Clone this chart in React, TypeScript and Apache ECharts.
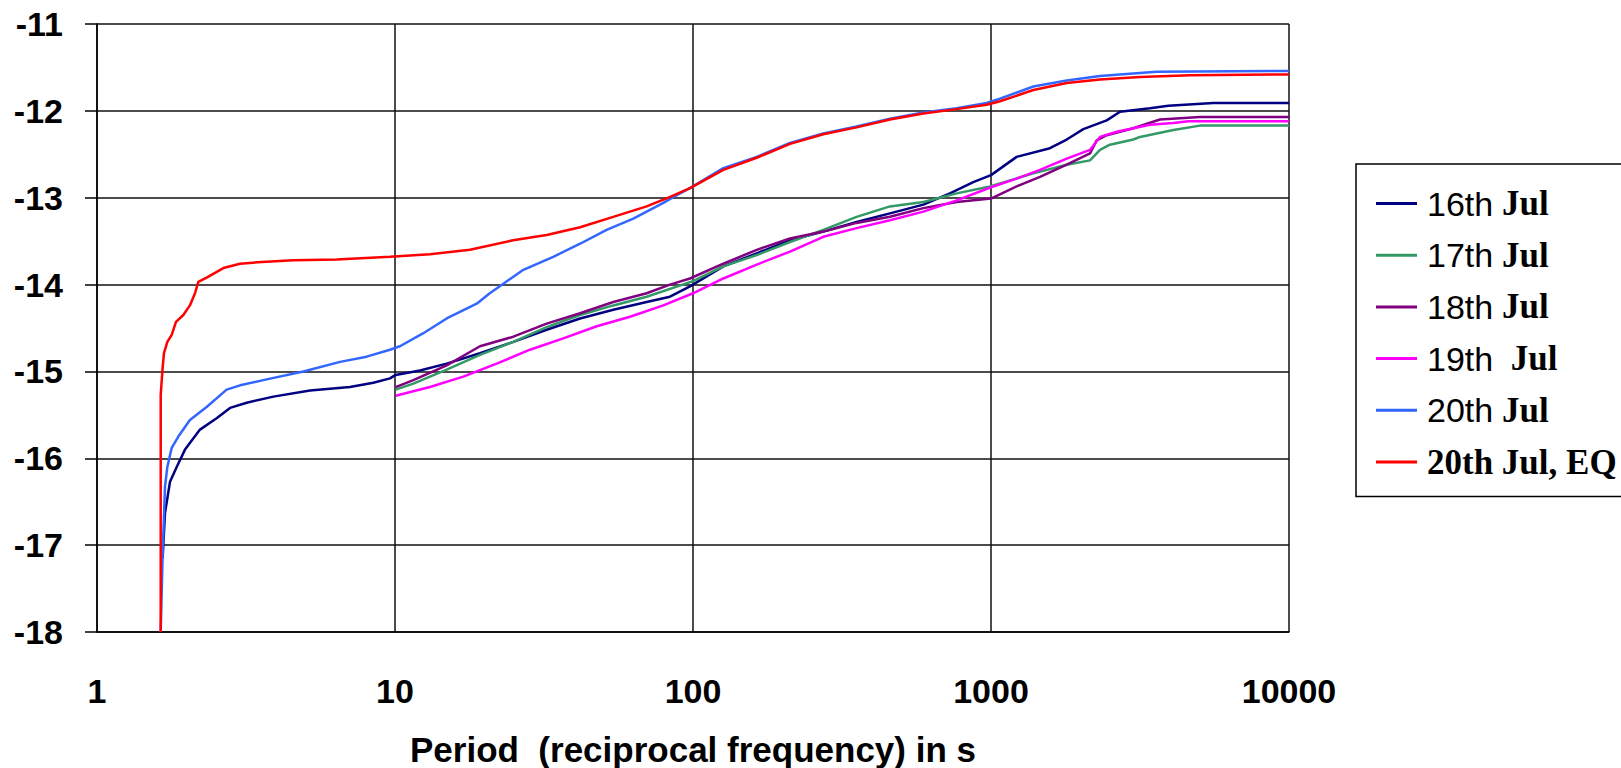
import React, { useEffect, useRef } from "react";
import * as echarts from "echarts";

// ---------- data ----------
const seriesNames = ["16th Jul", "17th Jul", "18th Jul", "19th  Jul", "20th Jul", "20th Jul, EQ"];
const seriesColors = ["#000080", "#339966", "#800080", "#FF00FF", "#3366FF", "#FF0000"];
const xTickLabels = ["1", "10", "100", "1000", "10000"];
const yMin = -18;
const yMax = -11;

const jul16Period = [1.661, 1.691, 1.758, 1.851, 1.974, 2.216, 2.52, 2.795, 3.18, 3.906, 5.186, 7.06, 8.46, 9.62, 10.05, 12.13, 14.91, 19.28, 24.95, 32.28, 41.78, 54.03, 69.9, 83.7, 97.7, 126.4, 163.6, 211.6, 273.7, 354, 458, 593, 728, 872, 1000, 1219, 1577, 1795, 2041, 2445, 2710, 3417, 3936, 5572, 10000];
const jul16Value = [-17.15, -16.63, -16.27, -16.1, -15.9, -15.67, -15.54, -15.42, -15.36, -15.29, -15.22, -15.18, -15.13, -15.08, -15.04, -14.99, -14.91, -14.79, -14.66, -14.52, -14.39, -14.29, -14.2, -14.14, -14.02, -13.79, -13.64, -13.49, -13.39, -13.28, -13.18, -13.08, -12.95, -12.82, -12.74, -12.53, -12.43, -12.33, -12.21, -12.11, -12.01, -11.97, -11.94, -11.91, -11.91];

const jul17Period = [10.05, 11.52, 14.91, 19.28, 24.95, 32.28, 41.78, 54.03, 69.9, 100, 126.4, 163.6, 211.6, 273.7, 354, 458, 593, 767, 992, 1387, 1795, 2149, 2322, 2507, 3003, 3162, 4092, 5026, 10000];
const jul17Value = [-15.21, -15.14, -14.98, -14.81, -14.66, -14.49, -14.35, -14.24, -14.14, -13.96, -13.79, -13.66, -13.51, -13.37, -13.22, -13.1, -13.05, -12.95, -12.87, -12.72, -12.62, -12.57, -12.45, -12.39, -12.33, -12.3, -12.22, -12.17, -12.17];

const jul18Period = [10.05, 11.52, 14.91, 19.28, 24.95, 32.28, 41.78, 54.03, 69.9, 83.7, 97.7, 126.4, 163.6, 211.6, 273.7, 354, 458, 593, 767, 1000, 1219, 1460, 1795, 2149, 2263, 2445, 3003, 3690, 5026, 10000];
const jul18Value = [-15.18, -15.1, -14.93, -14.71, -14.6, -14.45, -14.33, -14.2, -14.1, -14.0, -13.93, -13.76, -13.6, -13.47, -13.39, -13.29, -13.22, -13.12, -13.05, -13.01, -12.87, -12.76, -12.62, -12.49, -12.34, -12.28, -12.2, -12.1, -12.07, -12.07];

const jul19Period = [10.05, 13.1, 16.95, 21.94, 28.38, 36.7, 47.53, 61.46, 79.5, 100, 126.4, 163.6, 211.6, 273.7, 354, 458, 593, 767, 1000, 1219, 1460, 1795, 2149, 2322, 2642, 3417, 4092, 4595, 10000];
const jul19Value = [-15.28, -15.18, -15.06, -14.91, -14.75, -14.62, -14.48, -14.37, -14.24, -14.1, -13.93, -13.77, -13.62, -13.45, -13.35, -13.26, -13.16, -13.03, -12.88, -12.78, -12.68, -12.55, -12.45, -12.3, -12.24, -12.16, -12.14, -12.12, -12.12];

const jul20Period = [1.636, 1.661, 1.691, 1.722, 1.781, 1.875, 2.05, 2.333, 2.723, 3.02, 3.614, 4.925, 6.54, 8.03, 9.62, 10.39, 12.45, 14.91, 18.8, 20.8, 23.1, 26.96, 33.97, 41.8, 51.3, 63.05, 79.5, 88.2, 97.7, 126.4, 163.6, 211.6, 273.7, 354, 458, 593, 767, 967, 1072, 1387, 1795, 2322, 3003, 3597, 10000];
const jul20Value = [-18, -17.1, -16.33, -16.1, -15.88, -15.75, -15.56, -15.41, -15.21, -15.16, -15.1, -15.0, -14.89, -14.83, -14.75, -14.71, -14.56, -14.39, -14.22, -14.1, -13.99, -13.83, -13.68, -13.53, -13.37, -13.24, -13.06, -12.97, -12.89, -12.66, -12.53, -12.37, -12.26, -12.18, -12.09, -12.02, -11.97, -11.91, -11.86, -11.72, -11.65, -11.6, -11.57, -11.55, -11.54];

const eqPeriod = [1.636, 1.636, 1.661, 1.678, 1.722, 1.781, 1.841, 1.949, 2.05, 2.132, 2.188, 2.333, 2.655, 3.02, 3.57, 4.56, 6.37, 9.62, 13.1, 17.85, 24.9, 32.3, 41.8, 54.0, 69.9, 83.8, 97.7, 126.4, 163.6, 211.6, 273.7, 354, 458, 593, 767, 967, 1072, 1387, 1795, 2322, 3162, 4664, 10000];
const eqValue = [-18, -15.27, -14.95, -14.79, -14.66, -14.58, -14.43, -14.35, -14.24, -14.1, -13.97, -13.92, -13.81, -13.76, -13.74, -13.72, -13.71, -13.68, -13.65, -13.6, -13.49, -13.43, -13.34, -13.22, -13.1, -12.99, -12.89, -12.68, -12.54, -12.38, -12.27, -12.19, -12.1, -12.03, -11.98, -11.93, -11.89, -11.76, -11.68, -11.64, -11.61, -11.59, -11.58];

const periodArrays = [jul16Period, jul17Period, jul18Period, jul19Period, jul20Period, eqPeriod];
const valueArrays = [jul16Value, jul17Value, jul18Value, jul19Value, jul20Value, eqValue];

const SANS = 'Arial, "Liberation Sans", sans-serif';
const SERIF = '"Times New Roman", "Liberation Serif", serif';

export default function App() {
  const ref = useRef<HTMLDivElement>(null);

  useEffect(() => {
    document.body.style.margin = "0";
    if (!ref.current) return;
    const chart = echarts.init(ref.current, undefined, { renderer: "svg" });

    const series = seriesNames.map((name, i) => ({
      name,
      type: "line" as const,
      data: periodArrays[i].map((p, j) => [p, valueArrays[i][j]]),
      symbol: "none",
      showSymbol: false,
      lineStyle: { color: seriesColors[i], width: 2.5 },
      itemStyle: { color: seriesColors[i] },
      z: 3 + i,
    }));

    chart.setOption({
      animation: false,
      backgroundColor: "#ffffff",
      grid: {
        left: 97,
        right: 332,
        top: 24,
        bottom: 136,
        containLabel: false,
        outerBoundsMode: "none",
      },
      xAxis: {
        type: "log",
        logBase: 10,
        min: 1,
        max: 10000,
        name: "Period  (reciprocal frequency) in s",
        nameLocation: "middle",
        nameGap: 100,
        nameTextStyle: { fontFamily: SANS, fontWeight: "bold", fontSize: 35, color: "#000" },
        axisLine: { show: true, lineStyle: { color: "#000", width: 1.5 } },
        axisTick: { show: false },
        splitLine: { show: true, lineStyle: { color: "#111", width: 1.5 } },
        axisLabel: {
          fontFamily: SANS,
          fontWeight: "bold",
          fontSize: 34,
          color: "#000",
          margin: 42,
          formatter: (v: number) => xTickLabels[Math.round(Math.log10(v))] ?? "",
        },
      },
      yAxis: {
        type: "value",
        min: yMin,
        max: yMax,
        interval: 1,
        axisLine: { show: true, lineStyle: { color: "#000", width: 1.5 } },
        axisTick: { show: true, length: 12, lineStyle: { color: "#000", width: 1.5 } },
        splitLine: { show: true, lineStyle: { color: "#111", width: 1.5 } },
        axisLabel: {
          fontFamily: SANS,
          fontWeight: "bold",
          fontSize: 34,
          color: "#000",
          margin: 34,
        },
      },
      legend: {
        orient: "vertical",
        left: 1356,
        top: 164,
        data: seriesNames,
        icon: "rect",
        itemWidth: 41,
        itemHeight: 3,
        itemGap: 16.7,
        selectedMode: false,
        borderColor: "#000",
        borderWidth: 1.5,
        padding: [22, 50, 17, 20],
        formatter: (name: string) => {
          if (name.indexOf("EQ") >= 0) return `{s|}{b|${name}}`;
          const idx = name.indexOf(" ");
          return `{s|}{a|${name.slice(0, idx)}}{b|${name.slice(idx)}}`;
        },
        textStyle: {
          color: "#000",
          rich: {
            s: { width: 5 },
            a: { fontFamily: SANS, fontSize: 34, lineHeight: 34, color: "#000" },
            b: { fontFamily: SERIF, fontWeight: "bold", fontSize: 35, lineHeight: 34, color: "#000" },
          },
        },
      },
      series,
    });

    return () => chart.dispose();
  }, []);

  return <div ref={ref} style={{ width: 1621, height: 768 }} />;
}
